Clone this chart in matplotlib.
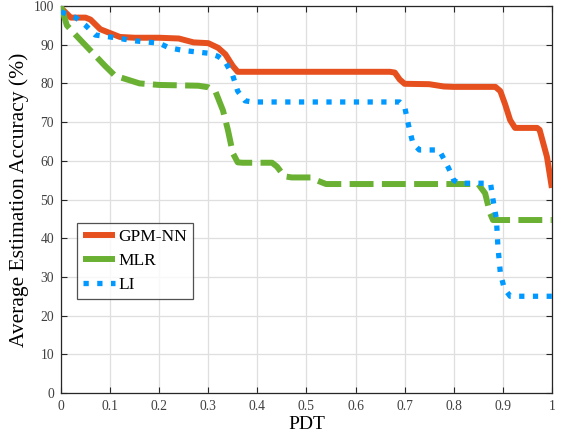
import matplotlib
matplotlib.use("Agg")
import matplotlib.pyplot as plt
from matplotlib.lines import Line2D

plt.rcParams['font.family'] = ['Liberation Serif', 'DejaVu Serif']

gpm_x = [0, 0.02, 0.05, 0.06, 0.08, 0.1, 0.12, 0.15, 0.2, 0.24, 0.27, 0.3, 0.32, 0.335,
         0.35, 0.36, 0.4, 0.5, 0.6, 0.67, 0.68, 0.69, 0.70, 0.75, 0.78, 0.8, 0.885, 0.895,
         0.905, 0.915, 0.925, 0.97, 0.975, 0.99, 1.0]
gpm_y = [99.5, 97, 97, 96.5, 94, 93, 92, 91.8, 91.8, 91.6, 90.6, 90.4, 89.2, 87.5,
         84.5, 83, 83, 83, 83, 83, 82.8, 81, 79.9, 79.8, 79.2, 79.1, 79.1, 78.0,
         74.5, 70.5, 68.5, 68.5, 68.0, 61, 53]

mlr_x = [0, 0.012, 0.03, 0.06, 0.09, 0.11, 0.16, 0.2, 0.28, 0.3, 0.315, 0.33, 0.34,
         0.35, 0.36, 0.37, 0.43, 0.44, 0.455, 0.47, 0.51, 0.52, 0.54, 0.85, 0.864,
         0.874, 0.88, 1.0]
mlr_y = [100, 95, 92.5, 88.5, 84.5, 82, 80, 79.6, 79.4, 79, 77.8, 73, 68,
         62, 59.6, 59.5, 59.5, 58.5, 56, 55.7, 55.7, 55, 54, 54, 51.6,
         46.5, 44.7, 44.7]

li_x = [0, 0.01, 0.03, 0.05, 0.07, 0.1, 0.15, 0.2, 0.22, 0.25, 0.3, 0.32, 0.335, 0.35,
        0.36, 0.375, 0.39, 0.69, 0.70, 0.71, 0.717, 0.73, 0.77, 0.78, 0.79, 0.80, 0.81,
        0.875, 0.88, 0.887, 0.89, 0.895, 0.903, 0.915, 1.0]
li_y = [98.5, 98, 97, 95, 92.5, 92, 91, 90.4, 89.2, 88.5, 87.8, 87, 85.5, 82,
        78, 75.5, 75.2, 75.2, 74, 68, 64.5, 62.8, 62.8, 60.5, 58, 55, 54.2,
        54.2, 50, 45, 38, 31, 27, 25, 25]

series_labels = ['GPM-NN', 'MLR', 'LI']
colors = ['#E6501E', '#6AB133', '#0099FF']
x_ticks = [0, 0.1, 0.2, 0.3, 0.4, 0.5, 0.6, 0.7, 0.8, 0.9, 1]
x_ticklabels = ['0', '0.1', '0.2', '0.3', '0.4', '0.5', '0.6', '0.7', '0.8', '0.9', '1']
y_ticks = list(range(0, 101, 10))

fig = plt.figure(figsize=(5.62, 4.38), dpi=100)
ax = fig.add_axes([0.1085, 0.1027, 0.8735, 0.8836])

lw = 4.3
ax.plot(gpm_x, gpm_y, color=colors[0], lw=lw, solid_capstyle='butt', zorder=3)
ax.plot(mlr_x, mlr_y, color=colors[1], lw=lw, linestyle=(0, (4.0, 1.4)),
        dash_capstyle='butt', zorder=3)
ax.plot(li_x, li_y, color=colors[2], lw=3.8, linestyle=(0, (1.0, 1.6)),
        dash_capstyle='butt', zorder=3)

ax.set_xlim(0, 1)
ax.set_ylim(0, 100)
ax.set_xticks(x_ticks)
ax.set_xticklabels(x_ticklabels)
ax.set_yticks(y_ticks)
ax.grid(True, color='#DFDFDF', lw=0.9)
ax.set_axisbelow(True)
ax.tick_params(direction='in', length=4, width=0.8, color='#262626',
               labelsize=9.8, labelcolor='#404040', top=True, right=True, pad=5)
for s in ax.spines.values():
    s.set_color('#262626')
    s.set_linewidth(0.9)

ax.set_xlabel('PDT', fontsize=14, labelpad=2)
ax.set_ylabel('Average Estimation Accuracy (%)', fontsize=15.5, labelpad=3)

handles = [
    Line2D([0], [0], color=colors[0], lw=lw, solid_capstyle='butt'),
    Line2D([0], [0], color=colors[1], lw=lw, solid_capstyle='butt'),
    Line2D([0], [0], color=colors[2], lw=3.8, linestyle=(0, (1.0, 1.6)), dash_capstyle='butt'),
]
leg = ax.legend(handles, series_labels, loc='upper left', bbox_to_anchor=(0.032, 0.44),
                fontsize=12.5, frameon=True, fancybox=False, handlelength=1.85,
                handletextpad=0.2, borderpad=0.35, labelspacing=0.45, borderaxespad=0)
leg.get_frame().set_edgecolor('#262626')
leg.get_frame().set_linewidth(0.9)

fig.savefig('out.png', dpi=100)
